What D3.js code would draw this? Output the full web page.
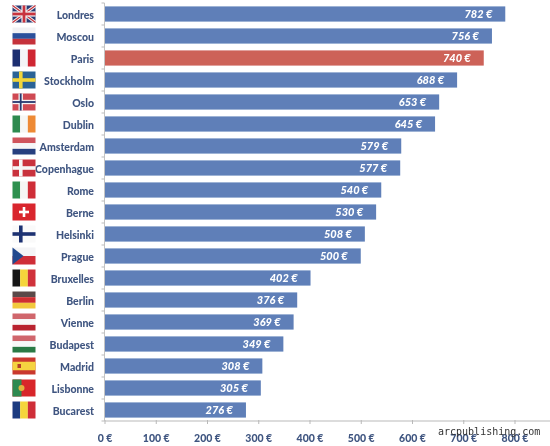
<!DOCTYPE html>
<html><head><meta charset="utf-8">
<script src="https://cdn.jsdelivr.net/npm/d3@7/dist/d3.min.js"></script>
<style>
html,body{margin:0;padding:0;background:#fff;}
svg{display:block;}
text{font-family:"Lato",sans-serif;}
</style></head><body>
<svg id="c" width="550" height="446"></svg>
<script>
const cities=["Londres","Moscou","Paris","Stockholm","Oslo","Dublin","Amsterdam","Copenhague","Rome","Berne","Helsinki","Prague","Bruxelles","Berlin","Vienne","Budapest","Madrid","Lisbonne","Bucarest"];
const prices=[782,756,740,688,653,645,579,577,540,530,508,500,402,376,369,349,308,305,276];
const highlighted=["Paris"];
const xTicks=[0,100,200,300,400,500,600,700,800];
const flagSpec=[
 ["uk"],
 ["h","#f1f1f4","#2b4f9b","#c5303a"],
 ["v","#1f2f6f","#f4f4f6","#cf2730"],
 ["cross","#2a6496","#f0d53a"],
 ["crossb","#cf4a52","#f4f4f6","#26386f"],
 ["v","#2f8a4f","#f6f6f4","#ee8a35"],
 ["h","#d0545c","#f6f6f6","#27407f"],
 ["cross","#c9323c","#f6f6f6"],
 ["v","#2f9150","#f6f6f4","#cf2f38"],
 ["swiss","#d9262e","#ffffff"],
 ["cross","#fafafa","#1f3272"],
 ["cz"],
 ["v","#141414","#f5d53a","#d0303a"],
 ["h","#5a4a48","#cf2e30","#f2c83c"],
 ["h","#d0666c","#f8f8f8","#b8242e"],
 ["h","#d0666c","#f8f8f8","#2c7a45"],
 ["es"],
 ["pt"],
 ["v","#1f3b80","#f5d53a","#cf2f38"]
];

const svg=d3.select("#c");
const x=d3.scaleLinear().domain([0,800]).range([104.5,514.5]);
const y=d3.scaleBand().domain(cities).range([3,421]).paddingInner(0.31).paddingOuter(0.155);
const soft=svg.append("defs");
soft.append("filter").attr("id","soft").append("feGaussianBlur").attr("stdDeviation",0.6);
soft.append("filter").attr("id","soft2").append("feGaussianBlur").attr("stdDeviation",0.3);
const root=svg.append("g").attr("filter","url(#soft2)");

// axes
const axisG=root.append("g").attr("transform","translate(0,421)");
axisG.call(d3.axisBottom(x).tickValues(xTicks).tickSize(3).tickFormat(d=>d+" €").tickPadding(6));
axisG.select(".domain").attr("stroke","#b9b9b9").attr("d","M104.5,0H550");
axisG.selectAll(".tick line").attr("stroke","#b9b9b9").attr("y1",-1).attr("y2",3);
axisG.selectAll(".tick text").attr("fill","#3f5580").attr("font-size",10.5).attr("font-weight",900).attr("dy","1.1em")
  .style("font-family",'"Lato",sans-serif');

const leftTicks=y.domain().map(d=>y(d)-y.step()*y.paddingInner()/2).concat([421]);
root.append("line").attr("x1",104.5).attr("x2",104.5).attr("y1",3).attr("y2",421).attr("stroke","#c4c4c4");
root.selectAll("line.lt").data(leftTicks).join("line").attr("class","lt")
  .attr("x1",101.5).attr("x2",104.5).attr("y1",d=>d).attr("y2",d=>d).attr("stroke","#bbb");

// bars
root.selectAll("rect.bar").data(cities).join("rect").attr("class","bar")
  .attr("x",x(0)+0.5).attr("y",d=>y(d)).attr("height",y.bandwidth())
  .attr("width",(d,i)=>x(prices[i])-x(0)-0.5)
  .attr("fill",d=>highlighted.includes(d)?"#cd6259":"#5e7fb8");

// value labels
root.selectAll("text.val").data(cities).join("text").attr("class","val")
  .attr("x",(d,i)=>x(prices[i])-13).attr("y",d=>y(d)+y.bandwidth()/2+0.5).attr("dy","0.35em")
  .attr("text-anchor","end").attr("fill","#fff").attr("font-size",11).attr("font-weight",900).attr("font-style","italic")
  .text((d,i)=>prices[i]+" €");

// city labels
root.selectAll("text.city").data(cities).join("text").attr("class","city")
  .attr("x",94).attr("y",d=>y(d)+y.bandwidth()/2+1).attr("dy","0.35em")
  .attr("text-anchor","end").attr("fill","#3f5580").attr("font-size",10.5).attr("font-weight",900)
  .text(d=>d);

// flags
const fw=23,fh=17;
const flags=svg.append("g").attr("filter","url(#soft)");
cities.forEach((c,i)=>{
  const g=flags.append("g").attr("transform",`translate(12.5,${y(c)+y.bandwidth()/2-fh/2})`);
  const s=flagSpec[i],k=s[0];
  const R=(a,b,w,h,f)=>g.append("rect").attr("x",a).attr("y",b).attr("width",w).attr("height",h).attr("fill",f);
  const P=(d,f,sw)=>g.append("path").attr("d",d).attr("fill",sw?"none":f).attr("stroke",sw?f:"none").attr("stroke-width",sw||0);
  if(k==="h"){s.slice(1).forEach((f,j)=>R(0,j*fh/3,fw,fh/3,f));}
  else if(k==="v"){s.slice(1).forEach((f,j)=>R(j*fw/3,0,fw/3,fh,f));}
  else if(k==="cross"){R(0,0,fw,fh,s[1]);R(6.5,0,3.6,fh,s[2]);R(0,fh/2-1.8,fw,3.6,s[2]);}
  else if(k==="crossb"){R(0,0,fw,fh,s[1]);R(6,0,4.4,fh,s[2]);R(0,fh/2-2.2,fw,4.4,s[2]);R(7.3,0,1.8,fh,s[3]);R(0,fh/2-.9,fw,1.8,s[3]);}
  else if(k==="swiss"){R(0,0,fw,fh,s[1]);R(fw/2-1.3,3.5,2.6,fh-7,s[2]);R(fw/2-5,fh/2-1.3,10,2.6,s[2]);}
  else if(k==="uk"){R(0,0,fw,fh,"#2c3b73");
    P(`M0,0L${fw},${fh}M${fw},0L0,${fh}`,"#f2f2f2",3.2);P(`M0,0L${fw},${fh}M${fw},0L0,${fh}`,"#c8323c",1.2);
    R(fw/2-2.6,0,5.2,fh,"#f2f2f2");R(0,fh/2-2.6,fw,5.2,"#f2f2f2");
    R(fw/2-1.4,0,2.8,fh,"#c8323c");R(0,fh/2-1.4,fw,2.8,"#c8323c");}
  else if(k==="cz"){R(0,0,fw,fh/2,"#f4f4f6");R(0,fh/2,fw,fh/2,"#cf2f38");P(`M0,0L11,${fh/2}L0,${fh}Z`,"#234a8f");}
  else if(k==="es"){R(0,0,fw,fh,"#c9392f");R(0,fh/4,fw,fh/2,"#f5d340");R(5,6.5,3.5,4,"#b5402a");}
  else if(k==="pt"){R(0,0,fw,fh,"#d8282c");R(0,0,9,fh,"#2f8a4f");g.append("circle").attr("cx",9).attr("cy",fh/2).attr("r",3).attr("fill","#e2b23c");}
});

// watermark
svg.append("text").attr("x",438).attr("y",435).attr("fill","#333").attr("font-size",10)
  .style("font-family",'"DejaVu Sans Mono",monospace').text("arcpublishing.com");
</script>
</body></html>
